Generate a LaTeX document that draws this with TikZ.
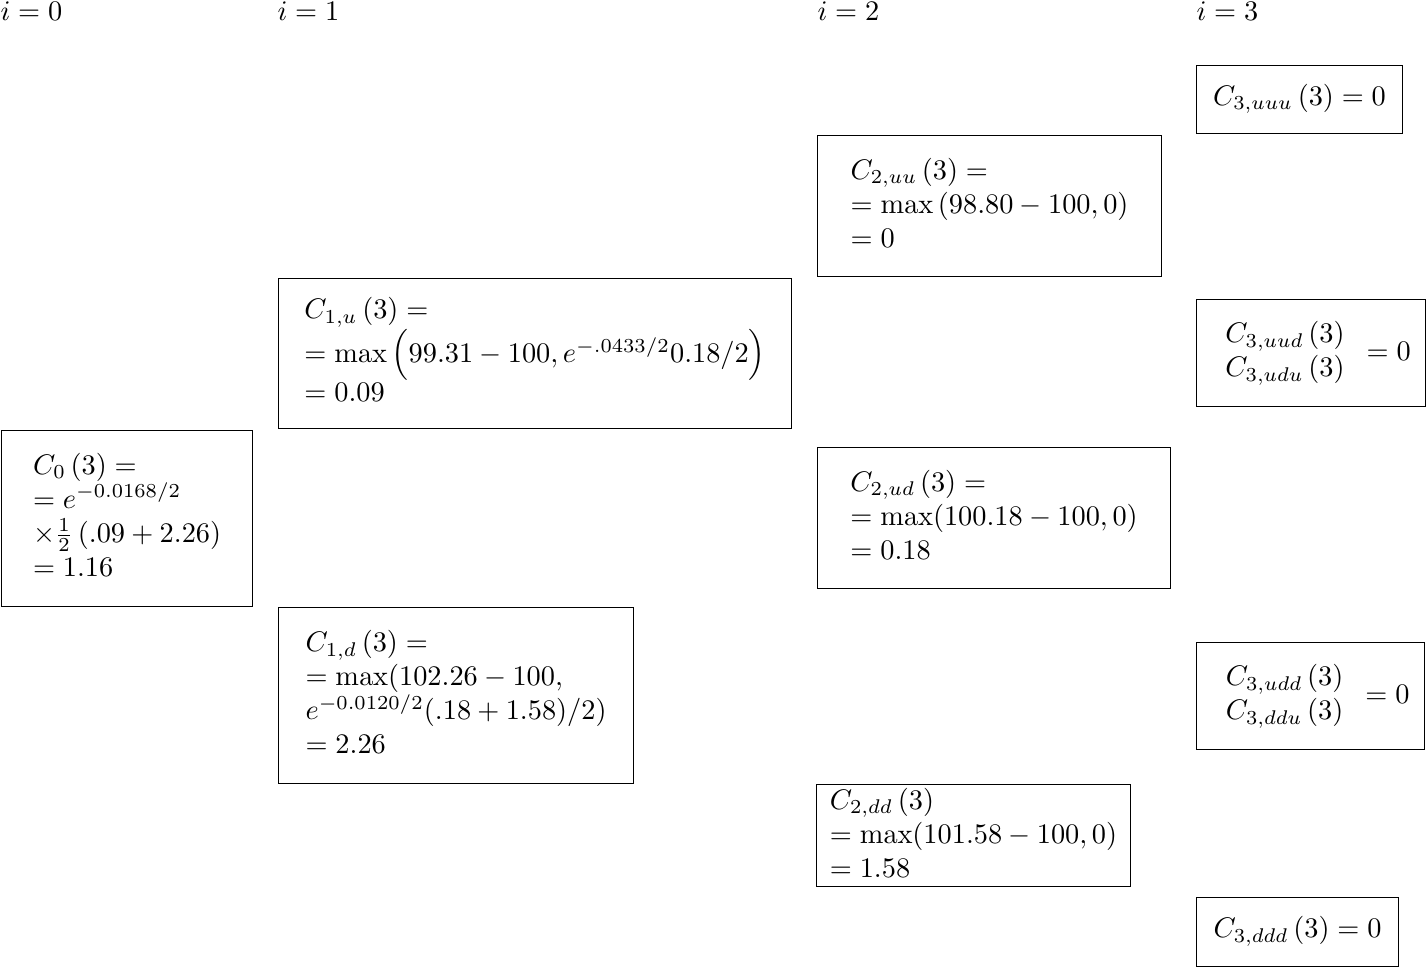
\documentclass[tikz,border=0pt]{standalone}
\usepackage{amsmath}
\begin{document}
\begin{tikzpicture}[x=0.353pt,y=-0.353pt,
  box/.style={draw, line width=0.4pt, inner sep=0pt, anchor=north west},
  txt/.style={inner sep=0pt, align=left},
  hdr/.style={inner sep=0pt, anchor=base west}]
\useasboundingbox (0,0) rectangle (1427,968);
\node[hdr] (h0) at (0,21) {$i=0$};
\node[hdr] (h1) at (277,21) {$i=1$};
\node[hdr] (h2) at (817,21) {$i=2$};
\node[hdr] (h3) at (1196,21) {$i=3$};

\node[box, minimum width=88.6pt, minimum height=62.1pt] (c0) at (1,430) {};
\node[txt] (t0) at ([yshift=1.4pt]c0.center)
 {$C_0\left(3\right)=$\\ $=e^{-0.0168/2}$\\ $\times\frac{1}{2}\left(.09+2.26\right)$\\ $=1.16$};

\node[box, minimum width=181.1pt, minimum height=53pt] (c1u) at (278,278) {};
\node[txt] (t1u) at ([yshift=1.4pt]c1u.center)
 {$C_{1,u}\left(3\right)=$\\ $=\max\,\Bigl(99.31-100,e^{-.0433/2}0.18/2\Bigr)$\\ $=0.09$};

\node[box, minimum width=125.3pt, minimum height=62.1pt] (c1d) at (278,607) {};
\node[txt] (t1d) at ([yshift=1.2pt]c1d.center)
 {$C_{1,d}\left(3\right)=$\\ $=\max(102.26-100,$\\ $e^{-0.0120/2}(.18+1.58)/2)$\\ $=2.26$};

\node[box, minimum width=121.4pt, minimum height=49.8pt] (c2uu) at (817,135) {};
\node[txt] (t2uu) at ([yshift=1.3pt]c2uu.center)
 {$C_{2,uu}\left(3\right)=$\\ $=\max\left(98.80-100,0\right)$\\ $=0$};

\node[box, minimum width=124.6pt, minimum height=49.8pt] (c2ud) at (817,447) {};
\node[txt] (t2ud) at ([yshift=1.3pt]c2ud.center)
 {$C_{2,ud}\left(3\right)=$\\ $=\max(100.18-100,0)$\\ $=0.18$};

\node[box, minimum width=110.8pt, minimum height=36pt] (c2dd) at (816,784) {};
\node[txt] (t2dd) at ([yshift=1.1pt]c2dd.center)
 {$C_{2,dd}\left(3\right)$\\ $=\max(101.58-100,0)$\\ $=1.58$};

\node[box, minimum width=72.7pt, minimum height=24pt] (c3uuu) at (1196,65) {};
\node[txt] (t3uuu) at ([yshift=0.3pt]c3uuu.center) {$C_{3,uuu}\left(3\right)=0$};

\node[box, minimum width=80.8pt, minimum height=37.8pt] (c3uud) at (1196,299) {};
\node[txt] (t3uud) at (c3uud.center)
 {$\begin{array}{l} C_{3,uud}\left(3\right)\\ C_{3,udu}\left(3\right)\end{array}=0$};

\node[box, minimum width=80.5pt, minimum height=37.8pt] (c3udd) at (1196,642) {};
\node[txt] (t3udd) at (c3udd.center)
 {$\begin{array}{l} C_{3,udd}\left(3\right)\\ C_{3,ddu}\left(3\right)\end{array}=0$};

\node[box, minimum width=71.3pt, minimum height=24.4pt] (c3ddd) at (1196,897) {};
\node[txt] (t3ddd) at ([yshift=0.3pt]c3ddd.center) {$C_{3,ddd}\left(3\right)=0$};
\end{tikzpicture}
\end{document}
